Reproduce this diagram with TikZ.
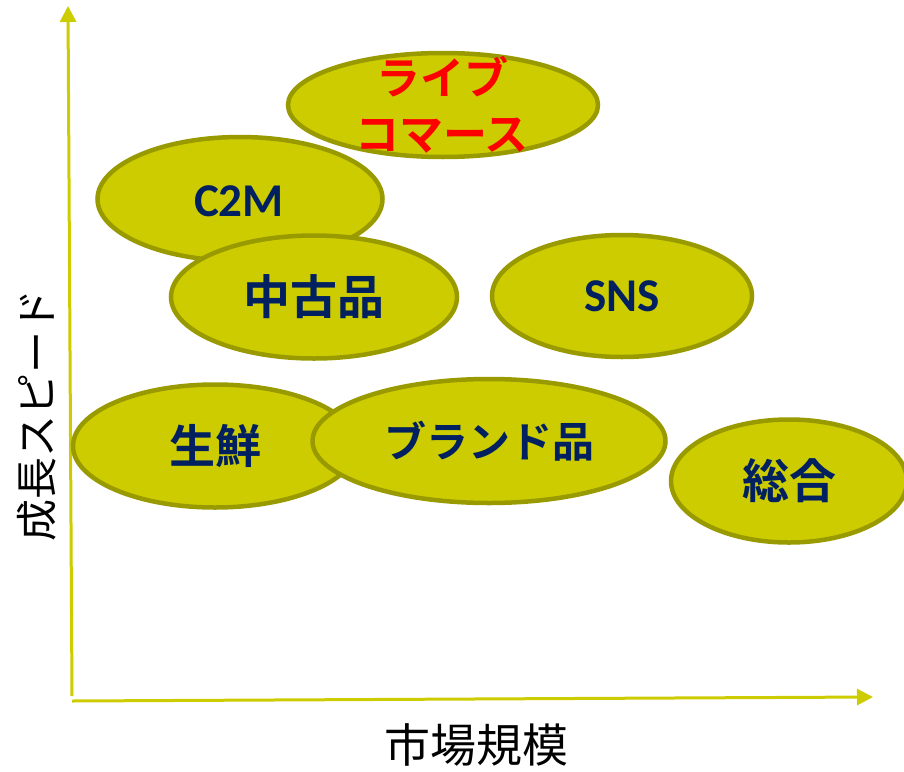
\documentclass[tikz,border=0pt]{standalone}
\usepackage{fontspec}
\setmainfont{Noto Sans CJK JP}
\newfontfamily\jpbold{Noto Sans CJK JP Bold}
\newfontfamily\jpreg{Noto Sans CJK JP}
\newfontfamily\latbold{Carlito}[BoldFont=* Bold]
\usetikzlibrary{arrows.meta,shapes.geometric}
\definecolor{olivefill}{HTML}{CCCC00}
\definecolor{oliveline}{HTML}{999900}
\definecolor{navytext}{HTML}{002060}
\begin{document}
\begin{tikzpicture}[x=1pt,y=-1pt,
  blob/.style={ellipse,draw=oliveline,fill=olivefill,line width=4.5pt,inner sep=0pt},
  jplabel/.style={font=\jpbold\fontsize{44}{56}\selectfont,text=navytext,align=center},
  latlabel/.style={font=\latbold\bfseries\fontsize{47}{50}\selectfont,text=navytext},
  axis/.style={draw=olivefill,line width=3pt,-{Triangle[width=16pt,length=16pt]}},
  axislabel/.style={font=\jpreg\fontsize{42}{50}\selectfont,text=black}]
\useasboundingbox (0,0) rectangle (904,771);
% axes
\coordinate (o1) at (72,696);
\coordinate (ytop) at (68,6);
\coordinate (o2) at (72,701);
\coordinate (xend) at (873,697);
\draw[axis] (o1) -- (ytop);
\draw[axis] (o2) -- (xend);
% ellipses
\node[blob,minimum width=310pt,minimum height=104pt] (live) at (443,105) {};
\node[jplabel,text=red] (livet) at (442,105) {ライブ\\コマース};
\node[blob,minimum width=285pt,minimum height=124pt] (c2m) at (240,199) {};
\node[latlabel] (c2mt) at (239,201) {C2M};
\node[blob,minimum width=286pt,minimum height=123pt] (used) at (314,297) {\jpbold\fontsize{47}{50}\selectfont\textcolor{navytext}{中古品}};
\node[blob,minimum width=260pt,minimum height=122pt] (sns) at (622,296) {\latbold\bfseries\fontsize{47}{50}\selectfont\textcolor{navytext}{SNS}};
\node[blob,minimum width=284pt,minimum height=123pt] (fresh) at (215,446) {\jpbold\fontsize{46}{50}\selectfont\textcolor{navytext}{生鮮}};
\node[blob,minimum width=353pt,minimum height=124pt] (brand) at (489,441) {\jpbold\fontsize{42}{50}\selectfont\textcolor{navytext}{ブランド品}};
\node[blob,minimum width=236pt,minimum height=123pt] (general) at (789,481) {\jpbold\fontsize{47}{50}\selectfont\textcolor{navytext}{総合}};
% axis labels
\node[axislabel,font=\jpreg\fontsize{46}{50}\selectfont] (xlab) at (476,745) {市場規模};
\node[axislabel,rotate=90] (ylab) at (37,415) {成長スピード};
\end{tikzpicture}
\end{document}
